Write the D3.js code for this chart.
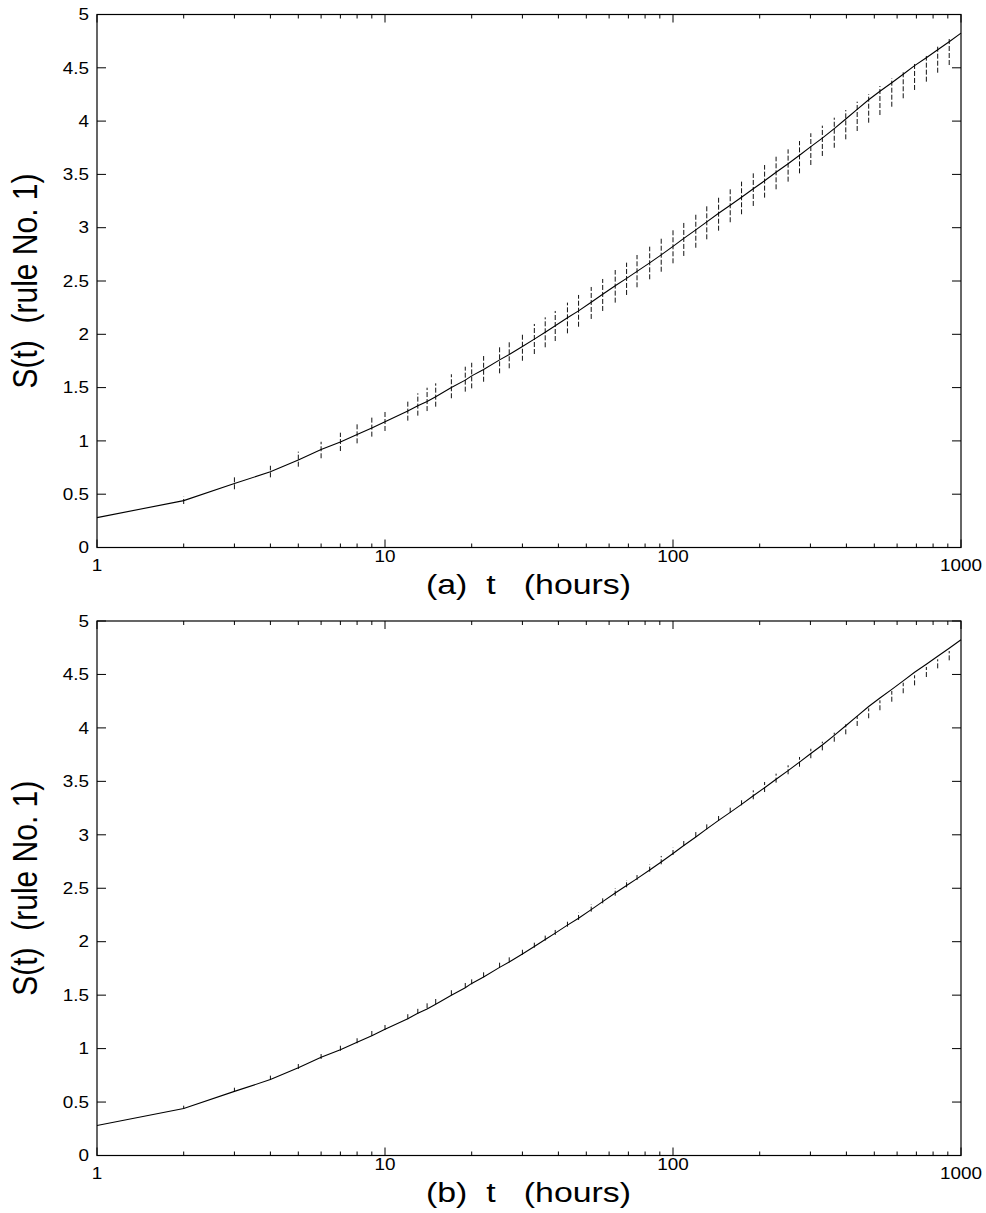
<!DOCTYPE html>
<html>
<head>
<meta charset="utf-8">
<script src="https://cdn.jsdelivr.net/npm/d3@7"></script>
<style>
  body { margin: 0; background: #fff; }
  text { font-family: "Liberation Sans", Arial, sans-serif; fill: #000; }
</style>
</head>
<body>
<div id="chart"></div>
<script>
// solid curve S(t), shared by both panels
const tLine = [1, 2, 3, 4, 5, 6, 7, 8, 9, 10, 12, 13, 14, 15, 17, 19, 20, 22, 25, 27, 30, 33, 36, 39, 43, 47, 52, 57, 63, 69,
  75, 83, 91, 100, 109, 120, 131, 144, 158, 173, 190, 208, 228, 251, 275, 301, 330, 363, 398, 436, 478, 523, 575, 630, 690, 758, 830, 910, 1000];
const sLine = [0.28, 0.44, 0.60, 0.71, 0.82, 0.92, 0.99, 1.06, 1.12, 1.18, 1.28, 1.33, 1.37, 1.415, 1.50, 1.57, 1.61, 1.67, 1.76, 1.81,
  1.885, 1.955, 2.02, 2.08, 2.155, 2.22, 2.30, 2.375, 2.455, 2.525, 2.59, 2.67, 2.745, 2.825, 2.90, 2.98, 3.055, 3.135, 3.21, 3.285,
  3.365, 3.44, 3.52, 3.60, 3.68, 3.76, 3.84, 3.93, 4.02, 4.11, 4.20, 4.28, 4.36, 4.44, 4.52, 4.595, 4.67, 4.745, 4.825];

// sample times of the dashed bars
const tBars = [2, 3, 4, 5, 6, 7, 8, 9, 10, 12, 13, 14, 15, 17, 19, 20, 22, 25, 27, 30, 33, 36, 39, 43, 47, 52, 57, 63, 69,
  75, 83, 91, 100, 109, 120, 131, 144, 158, 173, 190, 208, 228, 251, 275, 301, 330, 363, 398, 436, 478, 523, 575, 630, 690, 758, 830, 910];

// panel (a) bar ranges
const loA = [0.408, 0.546, 0.658, 0.758, 0.837, 0.905, 0.977, 1.04, 1.093, 1.19, 1.237, 1.28, 1.321, 1.40, 1.462, 1.493, 1.555, 1.634,
  1.681, 1.752, 1.815, 1.878, 1.937, 2.009, 2.071, 2.144, 2.219, 2.297, 2.369, 2.441, 2.516, 2.587, 2.666, 2.735, 2.812, 2.891, 2.972,
  3.051, 3.126, 3.204, 3.282, 3.36, 3.432, 3.51, 3.588, 3.673, 3.75, 3.829, 3.907, 3.985, 4.057, 4.135, 4.214, 4.292, 4.37, 4.454, 4.526];
const hiA = [0.476, 0.658, 0.767, 0.899, 0.992, 1.077, 1.158, 1.221, 1.28, 1.374, 1.446, 1.499, 1.54, 1.625, 1.696, 1.733, 1.796, 1.878,
  1.93, 2.0, 2.097, 2.159, 2.219, 2.297, 2.369, 2.444, 2.519, 2.603, 2.672, 2.744, 2.822, 2.901, 2.978, 3.051, 3.128, 3.203, 3.281,
  3.36, 3.432, 3.51, 3.588, 3.666, 3.735, 3.813, 3.886, 3.957, 4.032, 4.104, 4.182, 4.254, 4.329, 4.402, 4.473, 4.542, 4.611, 4.698, 4.777];

// panel (b) bar ranges
const loB = [0.435, 0.597, 0.706, 0.809, 0.903, 0.98, 1.05, 1.118, 1.174, 1.275, 1.325, 1.377, 1.417, 1.499, 1.567, 1.601, 1.667, 1.757,
  1.807, 1.878, 1.944, 2.01, 2.063, 2.14, 2.203, 2.281, 2.359, 2.43, 2.509, 2.577, 2.655, 2.724, 2.811, 2.895, 2.979, 3.051, 3.129,
  3.207, 3.276, 3.332, 3.40, 3.488, 3.566, 3.637, 3.716, 3.79, 3.871, 3.94, 4.018, 4.09, 4.165, 4.245, 4.324, 4.398, 4.476, 4.557, 4.632];
const hiB = [0.466, 0.634, 0.747, 0.856, 0.949, 1.027, 1.102, 1.168, 1.23, 1.325, 1.38, 1.427, 1.47, 1.548, 1.62, 1.654, 1.72, 1.807,
  1.86, 1.932, 2.004, 2.069, 2.125, 2.203, 2.271, 2.35, 2.421, 2.5, 2.577, 2.64, 2.724, 2.802, 2.879, 2.958, 3.036, 3.113, 3.192,
  3.269, 3.341, 3.416, 3.494, 3.572, 3.65, 3.728, 3.805, 3.871, 3.955, 4.034, 4.111, 4.183, 4.258, 4.345, 4.423, 4.492, 4.57, 4.642, 4.719];

const yTicks = [0, 0.5, 1, 1.5, 2, 2.5, 3, 3.5, 4, 4.5, 5];
const xTickLabels = [1, 10, 100, 1000];
const panelLabels = ['(a)', '(b)'];
const yTitle = 'S(t)  (rule No. 1)';

const width = 986, height = 1213;
const svg = d3.select('#chart').append('svg')
  .attr('width', width)
  .attr('height', height);

// panel frames (pixels)
const panels = [
  { top: 14.5, bottom: 547.5, lo: loA, hi: hiA, label: panelLabels[0] },
  { top: 621, bottom: 1155.5, lo: loB, hi: hiB, label: panelLabels[1] }
];
const left = 97, right = 961;
const stretch = 1.18; // the original figure is a bit wider than tall

const x = d3.scaleLog().domain([1, 1000]).range([left, right]);
const minorX = d3.range(1, 4).flatMap(e => d3.range(2, 10).map(m => m * Math.pow(10, e - 1)));

panels.forEach(p => {
  const y = d3.scaleLinear().domain([0, 5]).range([p.bottom, p.top]);
  const g = svg.append('g');

  // frame
  g.append('rect')
    .attr('x', left).attr('y', p.top)
    .attr('width', right - left).attr('height', p.bottom - p.top)
    .attr('fill', 'none').attr('stroke', '#000').attr('stroke-width', 1.2);

  // y ticks on both sides, pointing inward
  g.selectAll('.ytl').data(yTicks).enter().append('line')
    .attr('x1', left).attr('x2', left + 9)
    .attr('y1', d => y(d)).attr('y2', d => y(d))
    .attr('stroke', '#000');
  g.selectAll('.ytr').data(yTicks).enter().append('line')
    .attr('x1', right).attr('x2', right - 9)
    .attr('y1', d => y(d)).attr('y2', d => y(d))
    .attr('stroke', '#000');
  g.selectAll('.ylab').data(yTicks).enter().append('text')
    .attr('transform', d => `translate(89,${y(d)}) scale(${stretch},1)`)
    .attr('dy', '0.36em')
    .attr('text-anchor', 'end')
    .style('font-size', '16px')
    .text(d => d3.format('~g')(d));

  // x ticks: majors at decades, minors 2..9
  [p.bottom, p.top].forEach((edge, i) => {
    const dir = i === 0 ? -1 : 1;
    g.selectAll(null).data(xTickLabels).enter().append('line')
      .attr('x1', d => x(d)).attr('x2', d => x(d))
      .attr('y1', edge).attr('y2', edge + dir * 8)
      .attr('stroke', '#000');
    g.selectAll(null).data(minorX).enter().append('line')
      .attr('x1', d => x(d)).attr('x2', d => x(d))
      .attr('y1', edge).attr('y2', edge + dir * 4)
      .attr('stroke', '#000');
  });
  // end labels (1 and 1000) sit lower than the inner ones
  g.selectAll('.xlab').data(xTickLabels).enter().append('text')
    .attr('transform', (d, i) => {
      const dy = (i === 0 || i === xTickLabels.length - 1) ? 23 : 14.5;
      return `translate(${x(d)},${p.bottom + dy}) scale(${stretch},1)`;
    })
    .attr('text-anchor', 'middle')
    .style('font-size', '16px')
    .text(d => d);

  // dashed range bars
  g.selectAll('.bar').data(tBars).enter().append('line')
    .attr('x1', d => x(d)).attr('x2', d => x(d))
    .attr('y1', (d, i) => y(p.lo[i])).attr('y2', (d, i) => y(p.hi[i]))
    .attr('stroke', '#111').attr('stroke-width', 1)
    .attr('stroke-dasharray', '5,2');

  // solid curve
  const line = d3.line().x(d => x(d[0])).y(d => y(d[1]));
  g.append('path')
    .datum(tLine.map((t, i) => [t, sLine[i]]))
    .attr('d', line)
    .attr('fill', 'none').attr('stroke', '#000').attr('stroke-width', 1.1);

  // titles
  g.append('text')
    .attr('x', 426).attr('y', p.bottom + 46.5)
    .attr('xml:space', 'preserve')
    .attr('textLength', 205)
    .attr('lengthAdjust', 'spacingAndGlyphs')
    .style('white-space', 'pre')
    .style('font-size', '27.5px')
    .text(p.label + '  t   (hours)');
  g.append('text')
    .attr('transform', `translate(37,${(p.top + p.bottom) / 2}) rotate(-90) scale(1,${stretch})`)
    .attr('text-anchor', 'middle')
    .attr('xml:space', 'preserve')
    .style('white-space', 'pre')
    .style('font-size', '30px')
    .text(yTitle);
});
</script>
</body>
</html>
